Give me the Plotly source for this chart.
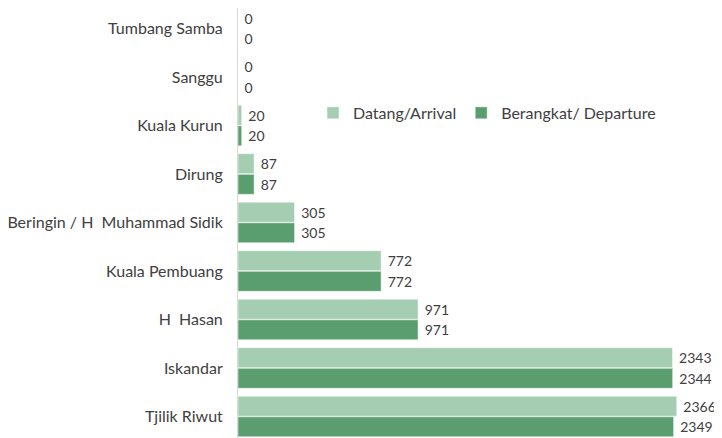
import plotly.graph_objects as go

categories = ["Tumbang Samba", "Sanggu", "Kuala Kurun", "Dirung",
              "Beringin / H  Muhammad Sidik", "Kuala Pembuang", "H  Hasan",
              "Iskandar", "Tjilik Riwut"]
arrival = [0, 0, 20, 87, 305, 772, 971, 2343, 2366]
departure = [0, 0, 20, 87, 305, 772, 971, 2344, 2349]

FAM = "Lato, 'Open Sans', sans-serif"
font = dict(family=FAM, size=14, color="#404040")
lblfont = dict(family=FAM, size=16, color="#404040")
pad = "\u00a0"

fig = go.Figure()
fig.add_trace(go.Bar(
    y=categories, x=arrival, name="Datang/Arrival", orientation="h",
    marker=dict(color="#a5cdb1", line=dict(color="#ffffff", width=0.5)),
    text=[pad + str(v) for v in arrival], textposition="outside",
    textfont=font, cliponaxis=False))
fig.add_trace(go.Bar(
    y=categories, x=departure, name="Berangkat/ Departure", orientation="h",
    marker=dict(color="#5a9e70", line=dict(color="#ffffff", width=0.5)),
    text=[pad + str(v) for v in departure], textposition="outside",
    textfont=font, cliponaxis=False))

fig.update_layout(
    width=714, height=430,
    margin=dict(l=230, r=0, t=0, b=0, autoexpand=False),
    paper_bgcolor="white", plot_bgcolor="white",
    barmode="group", bargap=0.15, bargroupgap=0.03,
    font=font,
    showlegend=True,
    legend=dict(orientation="h", x=0.155, y=0.756, xanchor="left", yanchor="middle",
                font=lblfont, bgcolor="rgba(0,0,0,0)", itemwidth=30,
                traceorder="normal"),
    xaxis=dict(range=[0, 2610], visible=False, showgrid=False, zeroline=False,
               automargin=False),
    yaxis=dict(categoryorder="array", categoryarray=categories,
               range=[8.443, -0.423],
               showline=True, linecolor="#d9d9d9", linewidth=1, ticks="",
               ticklabelstandoff=11, showgrid=False, automargin=False,
               tickfont=lblfont),
)

fig.write_html("out.html")
